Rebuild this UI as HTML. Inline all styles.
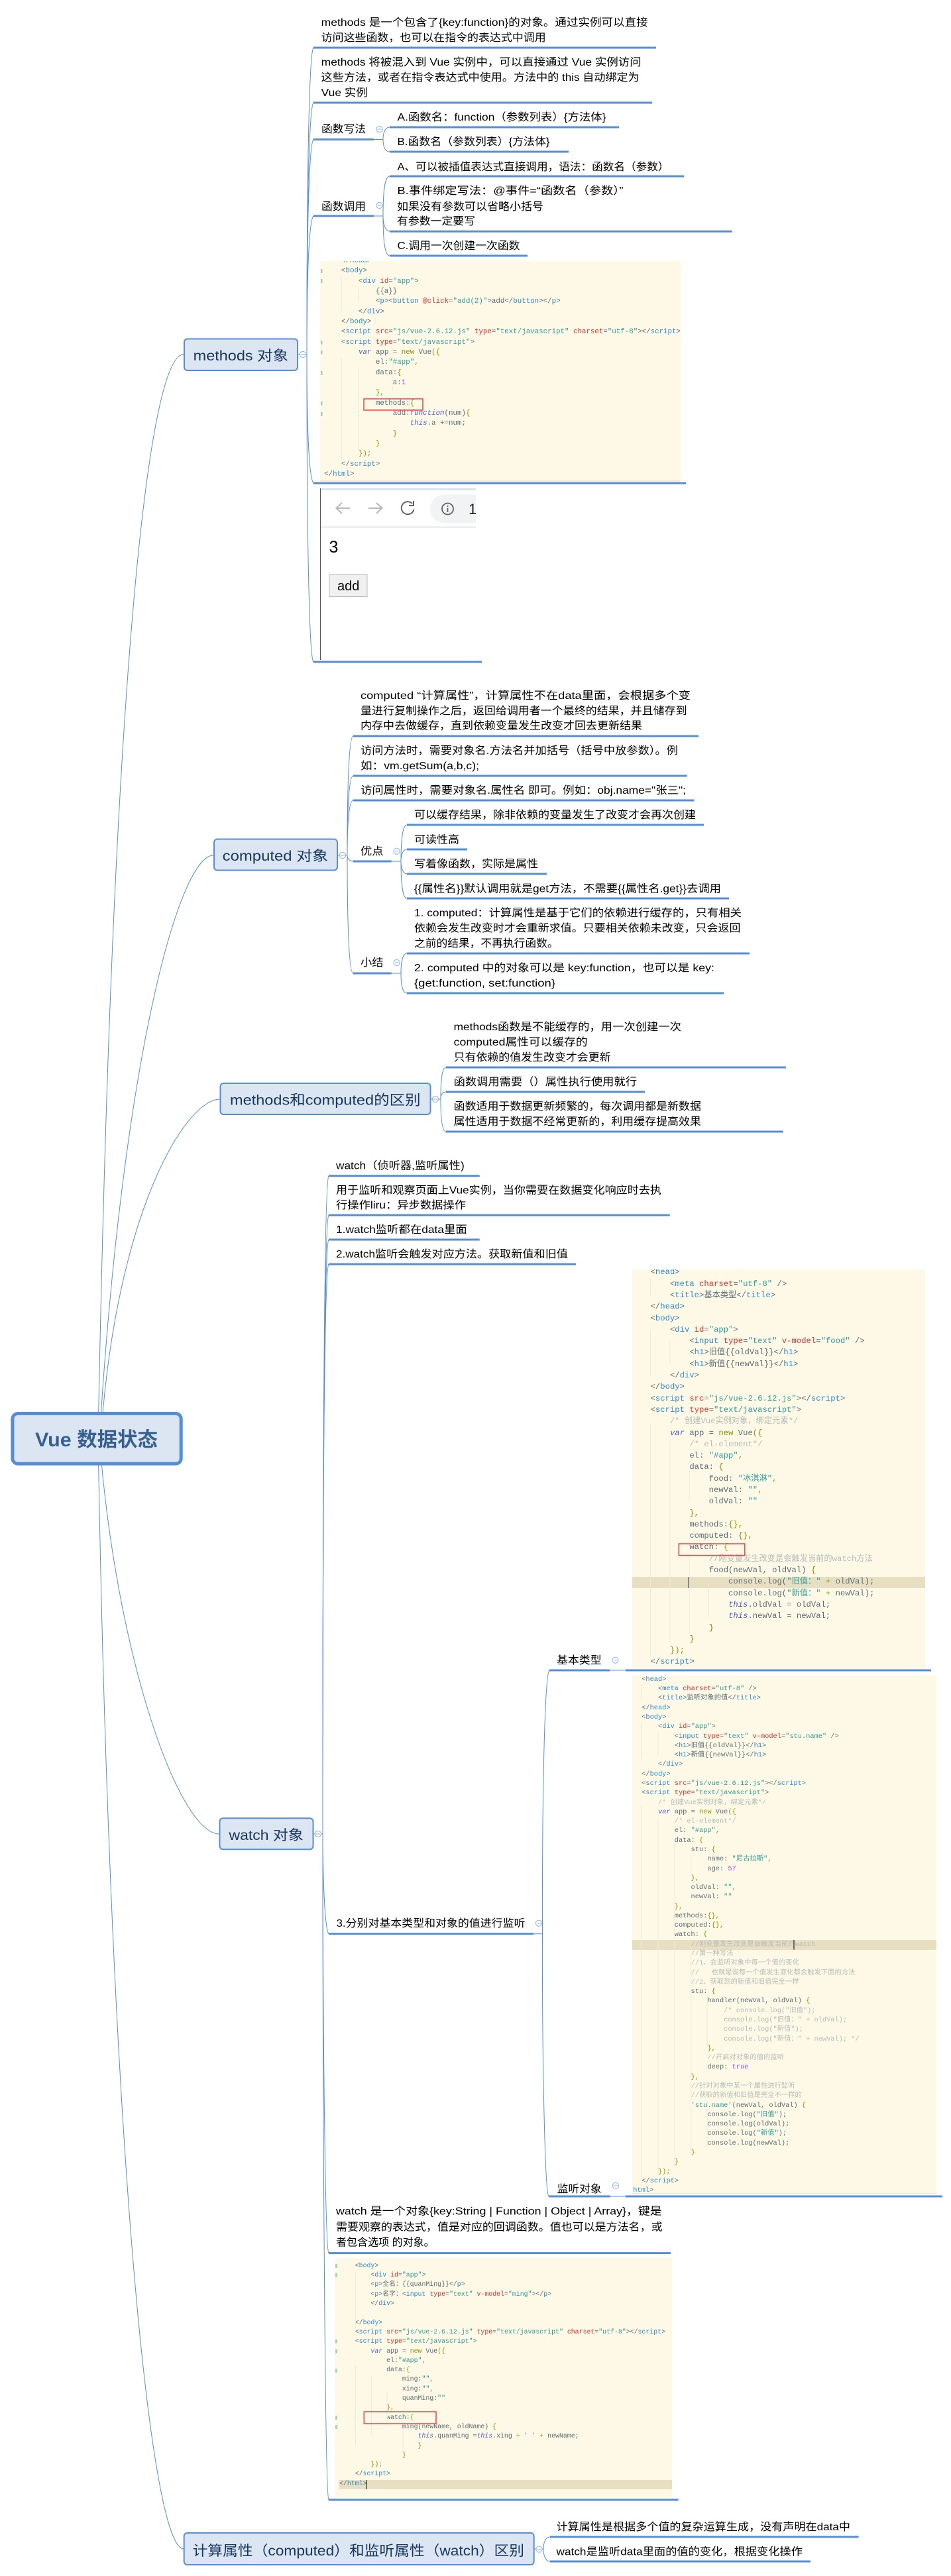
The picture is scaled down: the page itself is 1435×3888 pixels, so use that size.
<!DOCTYPE html>
<html><head><meta charset="utf-8"><style>
html,body{margin:0;padding:0;background:#fff}
#p{position:relative;width:1435px;height:3888px;overflow:hidden;background:#fff}
svg{position:absolute;left:0;top:0}
.x{fill:#000;font:16px "Liberation Sans","Noto Sans CJK SC",sans-serif}
.m{fill:#17375e;font:21px "Liberation Sans","Noto Sans CJK SC",sans-serif}
.r{fill:#376092;font:bold 30px "Liberation Sans","Noto Sans CJK SC",sans-serif}
.l{fill:none;stroke:#558ed5;stroke-width:1}
.u{fill:none;stroke:#558ed5;stroke-width:3}
.b{fill:#dce6f2;stroke:#558ed5;stroke-width:2}
.g{fill:none;stroke:#efe9d4;stroke-width:1}
.red{fill:none;stroke:#ef4444;stroke-width:1.5}
.cd{position:absolute;background:#fef8e6;overflow:hidden}
.cd pre{position:absolute;margin:0;color:#586e75;font-family:"Liberation Mono","Noto Sans CJK SC",monospace}
.cd i{font-style:normal}
.t{color:#268bd2}.a{color:#dc322f}.s{color:#2aa198}.k{color:#859900}.v{color:#4a5bd0;font-style:italic!important}.c{color:#b4bdb9}.n{color:#9b4dea}
.hl{position:absolute;background:#e8dfc3}
</style></head><body><div id="p">

<!-- code 1 -->
<div class="cd" style="left:483px;top:393.5px;width:543.6px;height:332.5px">
<pre style="left:6.1px;top:-6.5px;font-size:10.8px;line-height:15.33px">    &lt;/<i class="t">head</i>&gt;
    &lt;<i class="t">body</i>&gt;
        &lt;<i class="t">div</i> <i class="a">id</i>=<i class="s">"app"</i>&gt;
            {{a}}
            &lt;<i class="t">p</i>&gt;&lt;<i class="t">button</i> <i class="a">@click</i>=<i class="s">"add(2)"</i>&gt;add&lt;/<i class="t">button</i>&gt;&lt;/<i class="t">p</i>&gt;
        &lt;/<i class="t">div</i>&gt;
    &lt;/<i class="t">body</i>&gt;
    &lt;<i class="t">script</i> <i class="a">src</i>=<i class="s">"js/vue-2.6.12.js"</i> <i class="a">type</i>=<i class="s">"text/javascript"</i> <i class="a">charset</i>=<i class="s">"utf-8"</i>&gt;&lt;/<i class="t">script</i>&gt;
    &lt;<i class="t">script</i> <i class="a">type</i>=<i class="s">"text/javascript"</i>&gt;
        <i class="v">var</i> app = <i class="k">new</i> Vue<i class="k">({</i>
            el:<i class="s">"#app"</i><i class="k">,</i>
            data:<i class="k">{</i>
                a:<i class="n">1</i>
            <i class="k">},</i>
            methods:<i class="k">{</i>
                add:<i class="v">function</i>(num)<i class="k">{</i>
                    <i class="v">this</i>.a +=num;
                <i class="k">}</i>
            <i class="k">}</i>
        <i class="k">});</i>
    &lt;/<i class="t">script</i>&gt;
&lt;/<i class="t">html</i>&gt;</pre></div>

<!-- code 2 -->
<div class="cd" style="left:954.4px;top:1916px;width:441.6px;height:603px">
<div class="hl" style="left:0;right:0;top:463.6px;height:17px"></div>
<pre style="left:27.2px;top:-3.65px;font-size:12.24px;line-height:17.3px">&lt;<i class="t">head</i>&gt;
    &lt;<i class="t">meta</i> <i class="a">charset</i>=<i class="s">"utf-8"</i> /&gt;
    &lt;<i class="t">title</i>&gt;基本类型&lt;/<i class="t">title</i>&gt;
&lt;/<i class="t">head</i>&gt;
&lt;<i class="t">body</i>&gt;
    &lt;<i class="t">div</i> <i class="a">id</i>=<i class="s">"app"</i>&gt;
        &lt;<i class="t">input</i> <i class="a">type</i>=<i class="s">"text"</i> <i class="a">v-model</i>=<i class="s">"food"</i> /&gt;
        &lt;<i class="t">h1</i>&gt;旧值{{oldVal}}&lt;/<i class="t">h1</i>&gt;
        &lt;<i class="t">h1</i>&gt;新值{{newVal}}&lt;/<i class="t">h1</i>&gt;
    &lt;/<i class="t">div</i>&gt;
&lt;/<i class="t">body</i>&gt;
&lt;<i class="t">script</i> <i class="a">src</i>=<i class="s">"js/vue-2.6.12.js"</i>&gt;&lt;/<i class="t">script</i>&gt;
&lt;<i class="t">script</i> <i class="a">type</i>=<i class="s">"text/javascript"</i>&gt;
    <i class="c">/* 创建Vue实例对象，绑定元素*/</i>
    <i class="v">var</i> app = <i class="k">new</i> Vue<i class="k">({</i>
        <i class="c">/* el-element*/</i>
        el: <i class="s">"#app"</i><i class="k">,</i>
        data: <i class="k">{</i>
            food: <i class="s">"冰淇淋"</i><i class="k">,</i>
            newVal: <i class="s">""</i><i class="k">,</i>
            oldVal: <i class="s">""</i>
        <i class="k">},</i>
        methods:<i class="k">{},</i>
        computed: <i class="k">{},</i>
        watch: <i class="k">{</i>
            <i class="c">//刚变量发生改变是会触发当前的watch方法</i>
            food(newVal, oldVal) <i class="k">{</i>
                console.log(<i class="s">"旧值："</i> <i class="k">+</i> oldVal);
                console.log(<i class="s">"新值："</i> <i class="k">+</i> newVal);
                <i class="v">this</i>.oldVal = oldVal;
                <i class="v">this</i>.newVal = newVal;
            <i class="k">}</i>
        <i class="k">}</i>
    <i class="k">});</i>
&lt;/<i class="t">script</i>&gt;</pre></div>

<!-- code 3 -->
<div class="cd" style="left:954.4px;top:2529px;width:458.3px;height:782px">
<div class="hl" style="left:0;right:0;top:399px;height:14.6px"></div>
<pre style="left:13.8px;top:-1.14px;font-size:10.33px;line-height:14.28px">&lt;<i class="t">head</i>&gt;
    &lt;<i class="t">meta</i> <i class="a">charset</i>=<i class="s">"utf-8"</i> /&gt;
    &lt;<i class="t">title</i>&gt;监听对象的值&lt;/<i class="t">title</i>&gt;
&lt;/<i class="t">head</i>&gt;
&lt;<i class="t">body</i>&gt;
    &lt;<i class="t">div</i> <i class="a">id</i>=<i class="s">"app"</i>&gt;
        &lt;<i class="t">input</i> <i class="a">type</i>=<i class="s">"text"</i> <i class="a">v-model</i>=<i class="s">"stu.name"</i> /&gt;
        &lt;<i class="t">h1</i>&gt;旧值{{oldVal}}&lt;/<i class="t">h1</i>&gt;
        &lt;<i class="t">h1</i>&gt;新值{{newVal}}&lt;/<i class="t">h1</i>&gt;
    &lt;/<i class="t">div</i>&gt;
&lt;/<i class="t">body</i>&gt;
&lt;<i class="t">script</i> <i class="a">src</i>=<i class="s">"js/vue-2.6.12.js"</i>&gt;&lt;/<i class="t">script</i>&gt;
&lt;<i class="t">script</i> <i class="a">type</i>=<i class="s">"text/javascript"</i>&gt;
    <i class="c">/* 创建Vue实例对象，绑定元素*/</i>
    <i class="v">var</i> app = <i class="k">new</i> Vue<i class="k">({</i>
        <i class="c">/* el-element*/</i>
        el: <i class="s">"#app"</i><i class="k">,</i>
        data: <i class="k">{</i>
            stu: <i class="k">{</i>
                name: <i class="s">"尼古拉斯"</i><i class="k">,</i>
                age: <i class="n">57</i>
            <i class="k">},</i>
            oldVal: <i class="s">""</i><i class="k">,</i>
            newVal: <i class="s">""</i>
        <i class="k">},</i>
        methods:<i class="k">{},</i>
        computed:<i class="k">{},</i>
        watch: <i class="k">{</i>
            <i class="c">//刚变量发生改变是会触发当前的watch</i>
            <i class="c">//第一种写法</i>
            <i class="c">//1、会监听对象中每一个值的变化</i>
            <i class="c">//   也就是说每一个值发生变化都会触发下面的方法</i>
            <i class="c">//2、获取到的新值和旧值完全一样</i>
            stu: <i class="k">{</i>
                handler(newVal, oldVal) <i class="k">{</i>
                    <i class="c">/* console.log("旧值");</i>
                    <i class="c">console.log("旧值：" + oldVal);</i>
                    <i class="c">console.log("新值");</i>
                    <i class="c">console.log("新值：" + newVal); */</i>
                <i class="k">},</i>
                <i class="c">//开启对对象的值的监听</i>
                deep: <i class="n">true</i>
            <i class="k">},</i>
            <i class="c">//针对对象中某一个属性进行监听</i>
            <i class="c">//获取的新值和旧值是完全不一样的</i>
            <i class="s">'stu.name'</i>(newVal, oldVal) <i class="k">{</i>
                console.log(<i class="s">"旧值"</i>);
                console.log(oldVal);
                console.log(<i class="s">"新值"</i>);
                console.log(newVal);
            <i class="k">}</i>
        <i class="k">}</i>
    <i class="k">});</i>
&lt;/<i class="t">script</i>&gt;
<i class="t" style="margin-left:-13px">html</i>&gt;</pre></div>

<!-- code 4 -->
<div class="cd" style="left:506px;top:3408px;width:508px;height:362px">
<div class="hl" style="left:6px;right:0;top:334.8px;height:14.5px"></div>
<pre style="left:6px;top:-9.45px;font-size:9.9px;line-height:14.3px">    &lt;/<i class="t">head</i>&gt;
    &lt;<i class="t">body</i>&gt;
        &lt;<i class="t">div</i> <i class="a">id</i>=<i class="s">"app"</i>&gt;
        &lt;<i class="t">p</i>&gt;全名：{{quanMing}}&lt;/<i class="t">p</i>&gt;
        &lt;<i class="t">p</i>&gt;名字：&lt;<i class="t">input</i> <i class="a">type</i>=<i class="s">"text"</i> <i class="a">v-model</i>=<i class="s">"ming"</i>&gt;&lt;/<i class="t">p</i>&gt;
        &lt;/<i class="t">div</i>&gt;

    &lt;/<i class="t">body</i>&gt;
    &lt;<i class="t">script</i> <i class="a">src</i>=<i class="s">"js/vue-2.6.12.js"</i> <i class="a">type</i>=<i class="s">"text/javascript"</i> <i class="a">charset</i>=<i class="s">"utf-8"</i>&gt;&lt;/<i class="t">script</i>&gt;
    &lt;<i class="t">script</i> <i class="a">type</i>=<i class="s">"text/javascript"</i>&gt;
        <i class="v">var</i> app = <i class="k">new</i> Vue<i class="k">({</i>
            el:<i class="s">"#app"</i><i class="k">,</i>
            data:<i class="k">{</i>
                ming:<i class="s">""</i><i class="k">,</i>
                xing:<i class="s">""</i><i class="k">,</i>
                quanMing:<i class="s">""</i>
            <i class="k">},</i>
            watch:<i class="k">{</i>
                ming(newName, oldName) <i class="k">{</i>
                    <i class="v">this</i>.quanMing =<i class="v">this</i>.xing <i class="k">+</i> <i class="s">' '</i> <i class="k">+</i> newName;
                    <i class="k">}</i>
                <i class="k">}</i>
        <i class="k">});</i>
    &lt;/<i class="t">script</i>&gt;
&lt;/<i class="t">html</i>&gt;</pre></div>

<svg width="1435" height="3888" viewBox="0 0 1435 3888" xmlns="http://www.w3.org/2000/svg">
<defs><g id="c"><circle r="4.6" fill="#fff" stroke="#8db0e2" stroke-width="1"/><path d="M-3 0H3" stroke="#8db0e2" stroke-width="1"/></g></defs>

<!-- root curves -->
<g class="l">
<path d="M148 2171C170 1000 225 535 277 535"/>
<path d="M150 2171C185 1600 270 1291 322 1291"/>
<path d="M152 2171C175 1830 280 1659 332 1659"/>
<path d="M150 2171C175 2500 270 2768 331 2768"/>
<path d="M148 2171C165 3200 225 3847 277 3847"/>
<!-- methods -->
<path d="M450 535H463"/>
<path d="M463 535C463 234 467 78 473 72"/>
<path d="M463 535C463 288 467 161 473 155"/>
<path d="M463 535C463 324 467 216 473 210.5"/>
<path d="M463 535C463 399 467 332 473 326"/>
<path d="M463 535C463 660 467 723 473 729"/>
<path d="M463 535C463 837 467 993 473 999"/>
<path d="M564 210.5H578C578 200 581 192 588 192"/>
<path d="M578 210.5C578 221 581 229 588 229"/>
<path d="M564 326H578C578 285 581 266 588 266"/>
<path d="M578 326C578 337 581 349 588 349"/>
<path d="M578 326C578 365 581 386 588 386"/>
<!-- computed -->
<path d="M510 1291H524"/>
<path d="M524 1291C524 1175 527 1111 533 1111"/>
<path d="M524 1291C524 1213 527 1171 533 1171"/>
<path d="M524 1291C524 1237 527 1208 533 1208"/>
<path d="M524 1291C524 1295 527 1300 533 1300"/>
<path d="M524 1291C524 1407 527 1469 533 1469"/>
<path d="M590 1300H605C605 1265 608 1245 614 1245"/>
<path d="M605 1300C605 1290 608 1282 614 1282"/>
<path d="M605 1300C605 1310 608 1319 614 1319"/>
<path d="M605 1300C605 1335 608 1356 614 1356"/>
<path d="M590 1469H605C605 1450 608 1439 614 1439"/>
<path d="M605 1469C605 1488 608 1499 614 1499"/>
<!-- mvc -->
<path d="M650 1659H665C665 1630 667 1611 673 1611"/>
<path d="M665 1659C665 1653 667 1648 673 1648"/>
<path d="M665 1659C665 1688 667 1708 673 1708"/>
<!-- watch -->
<path d="M473 2768H487"/>
<path d="M487 2768C487 2100 490 1781 496 1775"/>
<path d="M487 2768C487 2150 490 1840 496 1834"/>
<path d="M487 2768C487 2170 490 1877 496 1871"/>
<path d="M487 2768C487 2190 490 1914 496 1908"/>
<path d="M487 2768C487 2830 490 2913 496 2918.7"/>
<path d="M487 2768C487 3000 490 3395 496 3400.6"/>
<path d="M487 2768C487 3130 490 3767 496 3773"/>
<path d="M805 2918.7H818.5C818 2700 822 2527 829 2521"/>
<path d="M818.5 2918.7C818 3100 822 3309 828 3315"/>
<path d="M920 2521H944"/>
<path d="M921 3315H944"/>
<!-- bottom -->
<path d="M806 3847H820C820 3838 823 3829 830 3829"/>
<path d="M820 3847C820 3857 823 3866 830 3866"/>
</g>

<!-- underlines -->
<g class="u">
<path d="M473 72H990"/><path d="M473 155H984"/>
<path d="M473 210.5H564"/><path d="M588 192H934"/><path d="M588 229H858"/>
<path d="M473 326H564"/><path d="M588 266H1032"/><path d="M588 349.3H1104.7"/><path d="M588 386H796"/>
<path d="M473 729.4H1035"/><path d="M473 999H727"/>
<path d="M533 1111H1054"/><path d="M533 1171H1036.6"/><path d="M533 1208H1047.5"/>
<path d="M533 1300H590.6"/><path d="M614 1245H1062"/><path d="M614 1282H705"/><path d="M614 1319H825"/><path d="M614 1356H1100"/>
<path d="M533 1469H590.6"/><path d="M614 1439H1131"/><path d="M614 1499H1092"/>
<path d="M673 1611H1185.8"/><path d="M673 1648H973"/><path d="M673 1708H1181.7"/>
<path d="M496 1774.7H723.7"/><path d="M496 1834H1010.7"/><path d="M496 1871H723.7"/><path d="M496 1908H869"/>
<path d="M496 2918.7H805"/><path d="M829 2521H920"/><path d="M944 2521H1405"/>
<path d="M828 3315H921"/><path d="M944 3315H1422"/>
<path d="M496 3400.6H1012"/><path d="M496 3773H1023.6"/>
<path d="M830 3829H1295.6"/><path d="M830 3866H1223"/>
</g>

<!-- indent guides -->
<g class="g">
<path d="M515 418V470M541 433V455M515 540V695M541 555V680M566 480V490M592 525V590M618 600V620"/>
<path d="M981.6 1930V1955M981.6 2008V2075M1010.9 2025V2058M981.6 2150V2500M1010.9 2175V2480M1040.2 2220V2265M1040.2 2345V2465M1069.5 2390V2440"/>
<path d="M968 2543V2565M968 2600V2655M993 2615V2650M968 2725V3300M993 2745V3285M1018 2780V3270M1042.6 2800V2825M1042.6 2940V3250M1067 3010V3090M1067 3170V3240"/>
<path d="M536.4 3428V3515M536.4 3570V3690M560.4 3585V3675M584 3610V3660M608 3665V3695"/>
</g>

<!-- code 1 gutter -->
<g fill="#a8d5a8">
<rect x="484" y="406" width="2.5" height="6"/><rect x="484" y="421" width="2.5" height="6"/><rect x="484" y="514" width="2.5" height="6"/><rect x="484" y="529" width="2.5" height="6"/><rect x="484" y="560" width="2.5" height="6"/><rect x="484" y="606" width="2.5" height="6"/><rect x="484" y="622" width="2.5" height="6"/>
<rect x="506" y="3417" width="3" height="6"/><rect x="506" y="3431" width="3" height="6"/><rect x="506" y="3531" width="3" height="6"/><rect x="506" y="3546" width="3" height="6"/><rect x="506" y="3575" width="3" height="6"/><rect x="506" y="3646" width="3" height="6"/><rect x="506" y="3660" width="3" height="6"/>
</g>
<path d="M483 726H1026.6" stroke="#ddd6c0" stroke-width="1"/>
<path d="M954.4 3311H1412.7" stroke="#ddd6c0" stroke-width="1"/>

<!-- red boxes, carets -->
<rect class="red" x="549" y="602" width="89" height="17"/>
<rect class="red" x="1024.3" y="2330" width="99.5" height="17.6"/>
<rect class="red" x="549.3" y="3640" width="108.7" height="18"/>
<path d="M1039.5 2380V2397M1198 2928V2942.6M553 3743V3757" stroke="#000" stroke-width="1"/>

<!-- browser screenshot -->
<rect x="483" y="737" width="235" height="3" fill="#dee1e6"/>
<path d="M483.5 737V996" stroke="#555" stroke-width="1"/>
<path d="M507.5 767H528M516 759L507.5 767L516 775" fill="none" stroke="#b8b8b8" stroke-width="2"/>
<path d="M556 767H576.5M568 759L576.5 767L568 775" fill="none" stroke="#b8b8b8" stroke-width="2"/>
<path d="M622 760A9.5 9.5 0 1 0 624.5 769M624 756V763H617" fill="none" stroke="#5f6368" stroke-width="2"/>
<path d="M718 746.5H670A21.5 21.5 0 0 0 649 768A21.5 21.5 0 0 0 670 789.5H718Z" fill="#f1f3f4"/>
<circle cx="675.5" cy="768" r="8.5" fill="none" stroke="#5f6368" stroke-width="1.8"/>
<path d="M675.5 767V773M675.5 763V765" stroke="#5f6368" stroke-width="1.8"/>
<svg x="700" y="750" width="18" height="36"><text x="7" y="26" style="font:22px 'Liberation Sans',sans-serif" fill="#202124">12</text></svg>
<path d="M484 795.5H718" stroke="#e6e6e6" stroke-width="2"/>
<text x="496.5" y="834" style="font:25px 'Liberation Sans',sans-serif" fill="#000">3</text>
<rect x="497" y="867.5" width="57" height="33" fill="#f0f0f0" stroke="#bbb" stroke-width="1"/>
<text x="509" y="891" style="font:20px 'Liberation Sans',sans-serif" fill="#000">add</text>

<!-- main nodes -->
<rect class="b" x="18.9" y="2133.5" width="254.3" height="75.7" rx="8" style="stroke-width:5"/>
<text class="r" x="53" y="2183" textLength="185" lengthAdjust="spacingAndGlyphs">Vue 数据状态</text>
<rect class="b" x="278" y="511.5" width="171" height="47.5" rx="5"/>
<text class="m" x="291.7" y="544" textLength="143.3" lengthAdjust="spacingAndGlyphs">methods 对象</text>
<rect class="b" x="323" y="1266.5" width="186" height="47" rx="5"/>
<text class="m" x="335.7" y="1299" textLength="159.3" lengthAdjust="spacingAndGlyphs">computed 对象</text>
<rect class="b" x="332.5" y="1635" width="317" height="47" rx="5"/>
<text class="m" x="347" y="1667.5" textLength="287.7" lengthAdjust="spacingAndGlyphs">methods和computed的区别</text>
<rect class="b" x="331.5" y="2744.3" width="141" height="47" rx="5"/>
<text class="m" x="345.5" y="2777" textLength="112.3" lengthAdjust="spacingAndGlyphs">watch 对象</text>
<rect class="b" x="277.7" y="3823" width="528" height="48" rx="5"/>
<text class="m" x="290.7" y="3857" textLength="500.3" lengthAdjust="spacingAndGlyphs">计算属性（computed）和监听属性（watch）区别</text>

<!-- collapse icons -->
<use href="#c" x="457" y="535"/><use href="#c" x="572.5" y="195"/><use href="#c" x="572.5" y="310"/>
<use href="#c" x="517" y="1291"/><use href="#c" x="598.6" y="1284.7"/><use href="#c" x="598.6" y="1453"/>
<use href="#c" x="657" y="1659"/><use href="#c" x="480" y="2768"/><use href="#c" x="813" y="2902.7"/>
<use href="#c" x="928.4" y="2505.7"/><use href="#c" x="929" y="3299"/><use href="#c" x="813.5" y="3847.7"/>

<!-- leaf text -->
<g class="x" lengthAdjust="spacingAndGlyphs">
<text class="x" x="484.7" y="39" textLength="493" lengthAdjust="spacingAndGlyphs">methods 是一个包含了{key:function}的对象。通过实例可以直接</text>
<text class="x" x="484.7" y="62" textLength="339" lengthAdjust="spacingAndGlyphs">访问这些函数，也可以在指令的表达式中调用</text>
<text class="x" x="484.7" y="99" textLength="483" lengthAdjust="spacingAndGlyphs">methods 将被混入到 Vue 实例中，可以直接通过 Vue 实例访问</text>
<text class="x" x="484.7" y="122" textLength="480" lengthAdjust="spacingAndGlyphs">这些方法，或者在指令表达式中使用。方法中的 this 自动绑定为</text>
<text class="x" x="484.7" y="145" textLength="70" lengthAdjust="spacingAndGlyphs">Vue 实例</text>
<text class="x" x="485" y="200" textLength="67" lengthAdjust="spacingAndGlyphs">函数写法</text>
<text class="x" x="599.5" y="182" textLength="315" lengthAdjust="spacingAndGlyphs">A.函数名：function（参数列表）{方法体}</text>
<text class="x" x="599.5" y="219" textLength="230" lengthAdjust="spacingAndGlyphs">B.函数名（参数列表）{方法体}</text>
<text class="x" x="485" y="317" textLength="67" lengthAdjust="spacingAndGlyphs">函数调用</text>
<text class="x" x="599.5" y="257" textLength="410" lengthAdjust="spacingAndGlyphs">A、可以被插值表达式直接调用，语法：函数名（参数）</text>
<text class="x" x="599.5" y="293" textLength="341" lengthAdjust="spacingAndGlyphs">B.事件绑定写法：@事件=“函数名（参数）”</text>
<text class="x" x="599" y="317" textLength="221" lengthAdjust="spacingAndGlyphs">如果没有参数可以省略小括号</text>
<text class="x" x="599" y="339" textLength="118" lengthAdjust="spacingAndGlyphs">有参数一定要写</text>
<text class="x" x="599.5" y="376" textLength="185" lengthAdjust="spacingAndGlyphs">C.调用一次创建一次函数</text>

<text class="x" x="544" y="1055" textLength="498" lengthAdjust="spacingAndGlyphs">computed “计算属性”，计算属性不在data里面，会根据多个变</text>
<text class="x" x="544" y="1078" textLength="492.6" lengthAdjust="spacingAndGlyphs">量进行复制操作之后，返回给调用者一个最终的结果，并且储存到</text>
<text class="x" x="544" y="1100.7" textLength="425" lengthAdjust="spacingAndGlyphs">内存中去做缓存，直到依赖变量发生改变才回去更新结果</text>
<text class="x" x="544" y="1138" textLength="479" lengthAdjust="spacingAndGlyphs">访问方法时，需要对象名.方法名并加括号（括号中放参数）。例</text>
<text class="x" x="544" y="1161" textLength="179" lengthAdjust="spacingAndGlyphs">如：vm.getSum(a,b,c);</text>
<text class="x" x="544" y="1198" textLength="491" lengthAdjust="spacingAndGlyphs">访问属性时，需要对象名.属性名 即可。例如：obj.name="张三";</text>
<text class="x" x="544" y="1290" textLength="34.5" lengthAdjust="spacingAndGlyphs">优点</text>
<text class="x" x="625" y="1235" textLength="425" lengthAdjust="spacingAndGlyphs">可以缓存结果，除非依赖的变量发生了改变才会再次创建</text>
<text class="x" x="625" y="1272.7" textLength="68" lengthAdjust="spacingAndGlyphs">可读性高</text>
<text class="x" x="625" y="1309" textLength="187" lengthAdjust="spacingAndGlyphs">写着像函数，实际是属性</text>
<text class="x" x="625" y="1346.7" textLength="463" lengthAdjust="spacingAndGlyphs">{{属性名}}默认调用就是get方法，不需要{{属性名.get}}去调用</text>
<text class="x" x="544" y="1458" textLength="34.5" lengthAdjust="spacingAndGlyphs">小结</text>
<text class="x" x="625" y="1383" textLength="494" lengthAdjust="spacingAndGlyphs">1. computed：计算属性是基于它们的依赖进行缓存的，只有相关</text>
<text class="x" x="625" y="1406" textLength="492.5" lengthAdjust="spacingAndGlyphs">依赖会发生改变时才会重新求值。只要相关依赖未改变，只会返回</text>
<text class="x" x="625" y="1429" textLength="217.6" lengthAdjust="spacingAndGlyphs">之前的结果，不再执行函数。</text>
<text class="x" x="625" y="1466" textLength="453" lengthAdjust="spacingAndGlyphs">2. computed 中的对象可以是 key:function，也可以是 key:</text>
<text class="x" x="625" y="1489" textLength="213" lengthAdjust="spacingAndGlyphs">{get:function, set:function}</text>

<text class="x" x="684.6" y="1555" textLength="343.4" lengthAdjust="spacingAndGlyphs">methods函数是不能缓存的，用一次创建一次</text>
<text class="x" x="684.6" y="1578" textLength="202" lengthAdjust="spacingAndGlyphs">computed属性可以缓存的</text>
<text class="x" x="684.6" y="1601" textLength="237" lengthAdjust="spacingAndGlyphs">只有依赖的值发生改变才会更新</text>
<text class="x" x="684.6" y="1638" textLength="276.4" lengthAdjust="spacingAndGlyphs">函数调用需要（）属性执行使用就行</text>
<text class="x" x="684.6" y="1675" textLength="373.4" lengthAdjust="spacingAndGlyphs">函数适用于数据更新频繁的，每次调用都是新数据</text>
<text class="x" x="684.6" y="1698" textLength="373.4" lengthAdjust="spacingAndGlyphs">属性适用于数据不经常更新的，利用缓存提高效果</text>

<text class="x" x="507" y="1764.7" textLength="193.7" lengthAdjust="spacingAndGlyphs">watch（侦听器,监听属性)</text>
<text class="x" x="507" y="1801.7" textLength="491" lengthAdjust="spacingAndGlyphs">用于监听和观察页面上Vue实例，当你需要在数据变化响应时去执</text>
<text class="x" x="507" y="1824" textLength="196" lengthAdjust="spacingAndGlyphs">行操作liru：异步数据操作</text>
<text class="x" x="507" y="1861" textLength="197.7" lengthAdjust="spacingAndGlyphs">1.watch监听都在data里面</text>
<text class="x" x="507" y="1898" textLength="350" lengthAdjust="spacingAndGlyphs">2.watch监听会触发对应方法。获取新值和旧值</text>
<text class="x" x="507.5" y="2908" textLength="285" lengthAdjust="spacingAndGlyphs">3.分别对基本类型和对象的值进行监听</text>
<text class="x" x="840" y="2511" textLength="67.6" lengthAdjust="spacingAndGlyphs">基本类型</text>
<text class="x" x="840.7" y="3309" textLength="67" lengthAdjust="spacingAndGlyphs">监听对象</text>
<text class="x" x="507" y="3342.7" textLength="491.6" lengthAdjust="spacingAndGlyphs">watch 是一个对象{key:String | Function | Object | Array}，键是</text>
<text class="x" x="507" y="3366.5" textLength="492.6" lengthAdjust="spacingAndGlyphs">需要观察的表达式，值是对应的回调函数。值也可以是方法名，或</text>
<text class="x" x="507" y="3389.4" textLength="148.7" lengthAdjust="spacingAndGlyphs">者包含选项 的对象。</text>
<text class="x" x="839.5" y="3819" textLength="443.5" lengthAdjust="spacingAndGlyphs">计算属性是根据多个值的复杂运算生成，没有声明在data中</text>
<text class="x" x="839.5" y="3856.7" textLength="371.5" lengthAdjust="spacingAndGlyphs">watch是监听data里面的值的变化，根据变化操作</text>
</g>
</svg>
</div></body></html>
